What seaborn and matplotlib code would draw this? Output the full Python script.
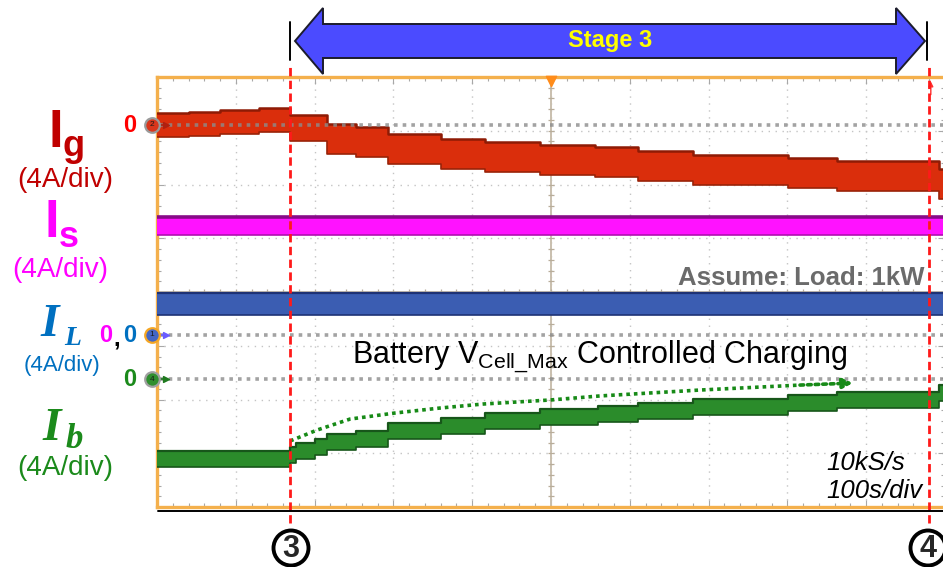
import numpy as np
import matplotlib
matplotlib.use("Agg")
import matplotlib.pyplot as plt
import seaborn as sns
from matplotlib.patches import Polygon, Ellipse
from matplotlib.lines import Line2D

# ---------------- acquisition data ----------------
# time axis: 100 s/div, 10 divisions
cursor3_s = 169
cursor4_s = 980

# grid current I_g (A), staircase as the controller steps down
ig_edges = [0, 40, 80, 130, 169, 216, 252, 293, 361, 416, 486, 556, 610, 680, 801, 863, 992, 1000]
ig_level = [0.0, 0.1, 0.25, 0.35, -0.22, -1.04, -1.27, -1.79, -2.16, -2.38, -2.6, -2.75,
            -3.05, -3.35, -3.57, -3.8, -4.4]
ig_ripple = [0.9, 0.9, 0.9, 0.9, 1.0, 1.1, 1.1, 1.1, 1.1, 1.1, 1.1, 1.1, 1.1, 1.1, 1.1, 1.1, 1.1]

# source current I_s (A)
is_edges = [0, 1000]
is_level = [8.1]
is_ripple = [0.65]

# load current I_L (A)
il_edges = [0, 1000]
il_level = [2.3]
il_ripple = [0.8]

# battery current I_b (A)
ib_edges = [0, 169, 176, 200, 216, 252, 293, 361, 416, 486, 560, 610, 680, 801, 863, 992, 1000]
ib_level = [-5.95, -5.65, -5.36, -5.06, -4.69, -4.47, -3.87, -3.5, -3.13, -2.83, -2.6, -2.38,
            -2.08, -1.79, -1.56, -1.04]
ib_ripple = [0.6] * 16

# charging trend guide (s, A on the I_b scale)
trend_s = [169, 203, 245, 302, 359, 414, 499, 562, 689, 816, 879]
trend_A = [-4.61, -3.80, -2.98, -2.53, -2.16, -1.86, -1.56, -1.26, -0.82, -0.45, -0.30]

# ---------------- scope settings ----------------
A_PER_DIV = 4.0
zero_div = {"g": 7.107, "s": 3.2, "L": 3.2, "b": 2.381}

W, H = 943, 567
sns.set_theme(style="white")
plt.rcParams["font.family"] = ["Liberation Sans", "DejaVu Sans"]
plt.rcParams["mathtext.fontset"] = "custom"
plt.rcParams["mathtext.rm"] = "Liberation Sans"

fig = plt.figure(figsize=(W / 100, H / 100), dpi=100)
ax = fig.add_axes([157 / W, (H - 507) / H, 788 / W, 430 / H])
ax.set_xlim(0, 1000)
ax.set_ylim(0, 8)


def px(x, y):
    """pixel position -> figure fraction"""
    return x / W, 1 - y / H


def pdata(x, y):
    """pixel position -> data units (s, div)"""
    return (x - 157) / 78.8 * 100, (507 - y) / 53.75


def steps(edges, vals):
    x = np.repeat(np.asarray(edges, float), 2)[1:-1]
    y = np.repeat(np.asarray(vals, float), 2)
    return x, y


# ---------------- frame, grid and ticks ----------------
ax.set_xticks(np.arange(0, 1001, 100))
ax.set_yticks(np.arange(0, 9, 1))
ax.set_xticks(np.arange(0, 1001, 20), minor=True)
ax.set_yticks(np.arange(0, 8.01, 0.2), minor=True)
ax.tick_params(which="both", direction="in", top=True, right=True, left=True, bottom=True,
               labelbottom=False, labelleft=False, color="#a8a8a8", width=0.8)
ax.tick_params(which="major", length=5)
ax.tick_params(which="minor", length=3)
ax.grid(True, which="major", color="#c4c4c4", linestyle=(0, (1, 4)), linewidth=1.0)
for side in ["top", "left", "bottom"]:
    ax.spines[side].set_color("#f4b04c")
    ax.spines[side].set_linewidth(2.4)
ax.spines["right"].set_visible(False)
fig.add_artist(Line2D([158 / W, 1.0], [1 - 510.5 / H] * 2, color="black", lw=1.4))

# centre crosshair with fine ticks
ax.axvline(500, color="#c9bfae", lw=1.4, zorder=1)
ax.axhline(4, color="#c9bfae", lw=1.4, zorder=1)
ax.vlines(np.arange(0, 1001, 20), 4 - 0.06, 4 + 0.06, color="#b8ad9a", lw=0.9, zorder=1)
ax.hlines(np.arange(0, 8.01, 0.2), 500 - 4, 500 + 4, color="#b8ad9a", lw=0.9, zorder=1)

# ---------------- traces ----------------
traces = [
    ("g", ig_edges, ig_level, ig_ripple, "#da2e0c", "#8e1b05", "#9a2208", 1.8),
    ("s", is_edges, is_level, is_ripple, "#ff12ff", "#880a88", "#b010b0", 2.6),
    ("L", il_edges, il_level, il_ripple, "#3b5db2", "#1e3275", "#1e3275", 1.6),
    ("b", ib_edges, ib_level, ib_ripple, "#2b8c2b", "#17561a", "#17561a", 1.6),
]
for key, edges, level, ripple, fill, top_col, bot_col, top_lw in traces:
    x, y = steps(edges, level)
    _, r = steps(edges, ripple)
    hi = zero_div[key] + (y + r) / A_PER_DIV
    lo = zero_div[key] + (y - r) / A_PER_DIV
    ax.fill_between(x, lo, hi, color=fill, lw=0, zorder=3)
    sns.lineplot(x=x, y=hi, color=top_col, lw=top_lw, estimator=None, sort=False, ax=ax, zorder=4)
    sns.lineplot(x=x, y=lo, color=bot_col, lw=1.2, estimator=None, sort=False, ax=ax, zorder=4)

# zero references
for key in ["g", "L", "b"]:
    ax.plot([4, 1000], [zero_div[key]] * 2, color="#8c8c8c", alpha=0.8, lw=2.6,
            dashes=(1, 1.4), zorder=5, solid_capstyle="butt")

# channel markers at the left edge
markers = [("g", "2", "#d9361c", "#9a9a9a", "#b02010"),
           ("L", "1", "#4466c4", "#f5a623", "#6a5cff"),
           ("b", "4", "#2f8f2f", "#a0a0a0", "#1f7a1f")]
for key, num, face, rim, arrow_col in markers:
    yv = zero_div[key]
    ax.plot([-2, 10], [yv, yv], color=arrow_col, lw=1.2, clip_on=False, zorder=7)
    ax.scatter([11], [yv], marker=">", s=18, color=arrow_col, clip_on=False, zorder=7)
    ax.scatter([-6.3], [yv], s=110, color=face, edgecolor=rim, linewidth=1.6,
               clip_on=False, zorder=8)
    ax.text(-6.3, yv, num, fontsize=6, ha="center", va="center", color="#1a1a1a", zorder=9)

# trigger position and cursor marker on the top edge
ax.scatter([500], [7.93], marker="v", s=55, color="#ff8c1a", clip_on=False, zorder=8)
ax.annotate("", xy=(982, 7.97), xytext=(982, 7.62),
            arrowprops=dict(arrowstyle="-|>", color="#ff3030", lw=1, mutation_scale=7),
            zorder=8)

# charging trend guide
trend_div = zero_div["b"] + np.asarray(trend_A) / A_PER_DIV
sns.lineplot(x=trend_s[:-1], y=trend_div[:-1], color="#178a17", lw=2.6, estimator=None,
             sort=False, ax=ax, zorder=6, dashes=False, linestyle=(0, (1, 1.1)))
ax.annotate("", xy=(trend_s[-1] + 4, trend_div[-1]), xytext=(trend_s[-2], trend_div[-2]),
            arrowprops=dict(arrowstyle="-|>", color="#178a17", lw=2.6, linestyle=(0, (1, 1.1)),
                            mutation_scale=14, shrinkA=0, shrinkB=0), zorder=6)

# cursors 3 and 4
for t in [cursor3_s, cursor4_s]:
    y_top = pdata(0, 65)[1]
    y_bot = pdata(0, 523)[1]
    ax.plot([t, t], [y_bot, y_top], color="#ff1a1a", lw=2.0, dashes=(3, 1.6),
            clip_on=False, zorder=10)

# ---------------- Stage 3 span arrow ----------------
xl, _ = pdata(295, 0)
xlb, _ = pdata(323, 0)
xrb, _ = pdata(896, 0)
xr, _ = pdata(925, 0)
_, yc = pdata(0, 41)
_, bt = pdata(0, 24)
_, bb = pdata(0, 58)
_, ht = pdata(0, 8)
_, hb = pdata(0, 74)
arrow_pts = [(xl, yc), (xlb, ht), (xlb, bt), (xrb, bt), (xrb, ht), (xr, yc),
             (xrb, hb), (xrb, bb), (xlb, bb), (xlb, hb)]
ax.add_patch(Polygon(arrow_pts, closed=True, facecolor="#4b4bff", edgecolor="#1c1c2c",
                     lw=1.4, clip_on=False, zorder=10))
for xp in [290, 927]:
    xd, _ = pdata(xp, 0)
    ax.plot([xd, xd], [pdata(0, 60)[1], pdata(0, 22)[1]], color="black", lw=1.4,
            clip_on=False, zorder=10)
fig.text(*px(610, 41), "Stage 3", fontsize=17, fontweight="bold", color="#ffff00",
         ha="center", va="center")

# ---------------- annotations inside the screen ----------------
fig.text(*px(924, 285), "Assume: Load: 1kW", fontsize=18.5, fontweight="bold",
         color="#6b6b6b", ha="right", va="baseline")
fig.text(*px(352, 364), r"Battery V$_{\mathregular{Cell\_Max}}$ Controlled Charging",
         fontsize=22, color="black", ha="left", va="baseline")
fig.text(*px(826, 470), "10kS/s", fontsize=18.5, style="italic", color="black",
         ha="left", va="baseline")
fig.text(*px(826, 498), "100s/div", fontsize=18.5, style="italic", color="black",
         ha="left", va="baseline")

# circled cursor numbers
for xc, num in [(291, "3"), (928, "4")]:
    cx, cy = px(xc, 548)
    fig.add_artist(Ellipse((cx, cy), 35 / W, 35 / H, transform=fig.transFigure,
                           facecolor="white", edgecolor="black", lw=2.8))
    fig.text(cx, cy - 0.002, num, fontsize=22, fontweight="bold", ha="center", va="center")

# ---------------- channel labels ----------------
red_d = "#c00000"
mag = "#ff00ff"
blue = "#0070c0"
green = "#1b8a1b"
serif = ["Liberation Serif", "DejaVu Serif"]

fig.text(*px(48, 147), "I", fontsize=38, fontweight="heavy", color=red_d, va="baseline")
fig.text(*px(62, 156), "g", fontsize=26, fontweight="bold", color=red_d, va="baseline")
fig.text(*px(65, 180), "(4A/div)", fontsize=20, color=red_d, ha="center", va="center")

fig.text(*px(45, 237), "I", fontsize=38, fontweight="heavy", color=mag, va="baseline")
fig.text(*px(59, 247), "s", fontsize=26, fontweight="bold", color=mag, va="baseline")
fig.text(*px(60, 270), "(4A/div)", fontsize=20, color=mag, ha="center", va="center")

fig.text(*px(40, 336), "I", fontsize=34, fontweight="bold", style="italic", family=serif,
         color=blue, va="baseline")
fig.text(*px(64, 345), "L", fontsize=20, fontweight="bold", style="italic", family=serif,
         color=blue, va="baseline")
fig.text(*px(62, 365), "(4A/div)", fontsize=16, color=blue, ha="center", va="center")

fig.text(*px(42, 440), "I", fontsize=34, fontweight="bold", style="italic", family=serif,
         color=green, va="baseline")
fig.text(*px(66, 448), "b", fontsize=25, fontweight="bold", style="italic", family=serif,
         color=green, va="baseline")
fig.text(*px(65, 468), "(4A/div)", fontsize=20, color=green, ha="center", va="center")

# zero level tags
fig.text(*px(130, 126), "0", fontsize=17, fontweight="bold", color="#ff0000",
         ha="center", va="center")
fig.text(*px(106, 336), "0", fontsize=17, fontweight="bold", color=mag, ha="center", va="center")
fig.text(*px(117, 339), ",", fontsize=17, fontweight="bold", color="black", ha="center",
         va="center")
fig.text(*px(130, 336), "0", fontsize=17, fontweight="bold", color=blue, ha="center", va="center")
fig.text(*px(130, 380), "0", fontsize=17, fontweight="bold", color=green, ha="center",
         va="center")

fig.savefig("out.png", dpi=100)
